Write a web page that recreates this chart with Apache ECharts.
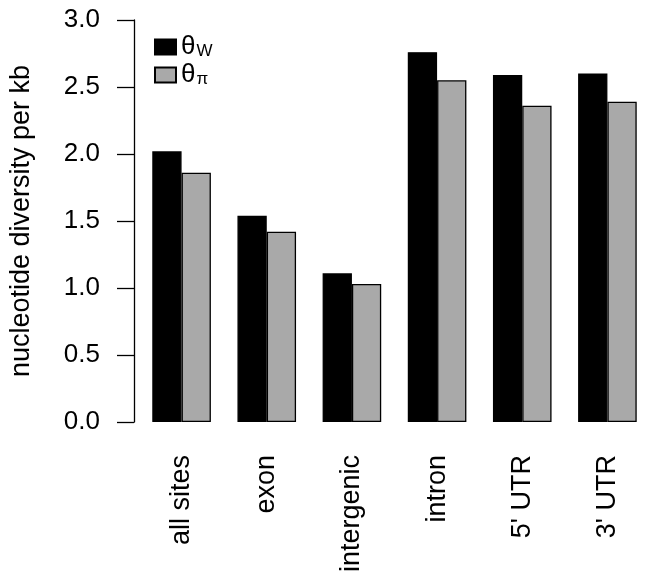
<!DOCTYPE html>
<html><head><meta charset="utf-8">
<script src="https://cdn.jsdelivr.net/npm/echarts@6/dist/echarts.min.js"></script>
<style>html,body{margin:0;padding:0;background:#fff}#c{width:650px;height:578px}</style>
</head><body><div id="c"></div>
<script>
const categories = ['all sites','exon','intergenic','intron',"5' UTR","3' UTR"];
const thetaW  = [2.02, 1.54, 1.11, 2.76, 2.59, 2.60];
const thetaPi = [1.86, 1.42, 1.03, 2.55, 2.36, 2.39];
const yTicks = ['0.0','0.5','1.0','1.5','2.0','2.5','3.0'];
const FONT = 'Liberation Sans, Arial, Helvetica, sans-serif';
const chart = echarts.init(document.getElementById('c'));
chart.setOption({
  animation:false,
  textStyle:{fontFamily:FONT},
  grid:{left:136, top:20, width:520, bottom:156},
  legend:{
    orient:'vertical', left:154, top:34, padding:0, itemWidth:21, itemHeight:15, itemGap:2,
    icon:'rect',
    data:['θW','θπ'],
    formatter: n => '{t|θ}{s|' + n.slice(1) + '}',
    textStyle:{fontFamily:FONT, color:'#000', rich:{
      t:{fontSize:26, lineHeight:26, fontFamily:FONT, color:'#000', verticalAlign:'bottom'},
      s:{fontSize:17, lineHeight:17, fontFamily:FONT, color:'#000', verticalAlign:'bottom', padding:[0,0,0,1]}
    }}
  },
  xAxis:{
    type:'category', data:categories,
    axisLine:{show:false}, axisTick:{show:false},
    axisLabel:{rotate:90, margin:33, fontSize:27, color:'#000', fontFamily:FONT, interval:0}
  },
  yAxis:{
    type:'value', min:0, max:3, interval:0.5, offset:5,
    name:'nucleotide diversity per kb', nameLocation:'middle', nameGap:99,
    nameTextStyle:{fontSize:27, color:'#000', fontFamily:FONT},
    axisLine:{show:true, lineStyle:{color:'#000', width:1.3}},
    axisTick:{show:true, length:17, lineStyle:{color:'#000', width:1.3}},
    axisLabel:{margin:34, fontSize:26, color:'#000', fontFamily:FONT, padding:[0,0,4,0],
      formatter: v => yTicks[Math.round(v*2)]},
    splitLine:{show:false}
  },
  series:[
    {name:'θW', type:'bar', data:thetaW, barWidth:29.3, barGap:'0%',
     itemStyle:{color:'#000', borderColor:'#000', borderWidth:1.3}},
    {name:'θπ', type:'bar', data:thetaPi, barWidth:29.3, barGap:'0%',
     itemStyle:{color:'#a9a9a9', borderColor:'#000', borderWidth:1.3}}
  ]
});
</script></body></html>
